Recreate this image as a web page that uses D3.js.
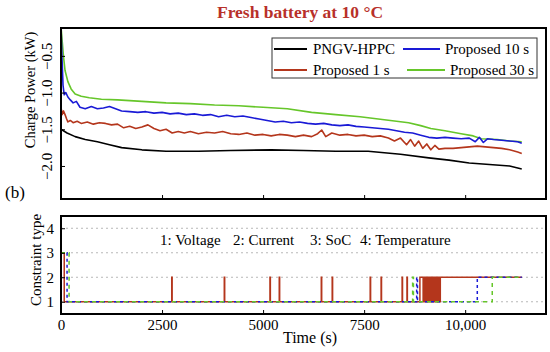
<!DOCTYPE html>
<html>
<head>
<meta charset="utf-8">
<script src="https://cdn.jsdelivr.net/npm/d3@7"></script>
<style>
  body { margin: 0; background: #fff; }
  svg { display: block; font-family: "Liberation Serif", "Times New Roman", serif; }
</style>
</head>
<body>
<div id="chart"></div>
<script>
// ---- data ----
const titleText = "Fresh battery at 10 \u00B0C";
const seriesNames = ["PNGV-HPPC", "Proposed 10 s", "Proposed 1 s", "Proposed 30 s"];
const seriesColors = ["#000000", "#1a1ad6", "#b4361c", "#66c62a"];

const xTicks = [0, 2500, 5000, 7500, 10000];
const xTickLabels = ["0", "2500", "5000", "7500", "10,000"];
const powerTicks = [-0.5, -1.0, -1.5, -2.0];
const constraintTicks = [1, 2, 3, 4];
const constraintLegend = ["1: Voltage", "2: Current", "3: SoC", "4: Temperature"];

// charge power (kW)
const pngvTime = [0, 150, 350, 600, 900, 1200, 1500, 2000, 2600, 3400, 4200, 5200, 6000, 6800, 7600, 8400, 9100, 9600, 10100, 10600, 11100, 11400];
const pngvPower = [-1.50, -1.55, -1.60, -1.64, -1.67, -1.71, -1.75, -1.78, -1.80, -1.80, -1.79, -1.78, -1.79, -1.80, -1.80, -1.84, -1.89, -1.92, -1.96, -1.98, -2.00, -2.04];

const p30Time = [0, 30, 60, 100, 170, 250, 350, 500, 700, 1000, 1400, 2000, 2600, 3200, 3800, 4400, 5000, 5600, 6200, 6800, 7400, 8000, 8600, 8900, 9150, 9500, 9900, 10200, 10400, 10800, 11100, 11400];
const p30Power = [-0.10, -0.30, -0.50, -0.70, -0.85, -0.95, -1.02, -1.05, -1.07, -1.09, -1.10, -1.12, -1.14, -1.15, -1.17, -1.18, -1.20, -1.22, -1.27, -1.30, -1.33, -1.37, -1.41, -1.45, -1.49, -1.52, -1.56, -1.59, -1.63, -1.64, -1.66, -1.67];

const p10Time = [0, 20, 50, 80, 120, 170, 230, 300, 380, 470, 600, 750, 900, 1050, 1200, 1350, 1500, 1700, 1900, 2100, 2300, 2500, 2700, 2900, 3100, 3300, 3500, 3700, 3900, 4100, 4300, 4500, 4700, 4900, 5100, 5300, 5500, 5700, 5900, 6100, 6300, 6500, 6700, 6900, 7100, 7300, 7500, 7700, 7900, 8100, 8300, 8500, 8700, 8900, 9100, 9300, 9500, 9700, 9900, 10100, 10250, 10350, 10450, 10550, 10700, 10900, 11100, 11300, 11400];
const p10Power = [-0.10, -0.45, -0.90, -1.03, -1.00, -1.06, -1.10, -1.14, -1.12, -1.20, -1.22, -1.19, -1.22, -1.21, -1.19, -1.22, -1.25, -1.26, -1.27, -1.26, -1.28, -1.27, -1.29, -1.28, -1.30, -1.29, -1.31, -1.30, -1.33, -1.31, -1.33, -1.32, -1.34, -1.36, -1.38, -1.40, -1.39, -1.41, -1.40, -1.42, -1.43, -1.42, -1.44, -1.45, -1.44, -1.46, -1.47, -1.48, -1.49, -1.50, -1.52, -1.54, -1.55, -1.58, -1.61, -1.62, -1.61, -1.62, -1.63, -1.62, -1.67, -1.61, -1.68, -1.63, -1.64, -1.65, -1.66, -1.67, -1.69];

const p1Time = [0, 30, 60, 100, 140, 170, 230, 300, 400, 500, 650, 800, 950, 1100, 1250, 1400, 1550, 1700, 1850, 2000, 2150, 2300, 2450, 2600, 2750, 2900, 3050, 3200, 3400, 3600, 3800, 4000, 4200, 4400, 4600, 4800, 5000, 5200, 5400, 5600, 5800, 6000, 6200, 6350, 6450, 6550, 6700, 6900, 7100, 7300, 7500, 7700, 7900, 8100, 8250, 8400, 8550, 8650, 8750, 8850, 8950, 9050, 9150, 9250, 9350, 9500, 9700, 9900, 10100, 10300, 10500, 10700, 10900, 11100, 11300, 11400];
const p1Power = [-1.20, -1.30, -1.25, -1.30, -1.36, -1.40, -1.38, -1.41, -1.39, -1.42, -1.40, -1.43, -1.41, -1.42, -1.44, -1.43, -1.48, -1.46, -1.49, -1.47, -1.44, -1.49, -1.52, -1.50, -1.55, -1.53, -1.55, -1.53, -1.56, -1.54, -1.55, -1.53, -1.56, -1.57, -1.55, -1.58, -1.57, -1.59, -1.57, -1.58, -1.60, -1.58, -1.60, -1.56, -1.51, -1.60, -1.55, -1.58, -1.57, -1.59, -1.58, -1.60, -1.59, -1.62, -1.66, -1.62, -1.71, -1.64, -1.73, -1.66, -1.76, -1.70, -1.78, -1.72, -1.77, -1.76, -1.76, -1.75, -1.74, -1.73, -1.74, -1.75, -1.76, -1.78, -1.81, -1.83];

// constraint type (step)
const c1Time = [0, 80, 2740, 2750, 4040, 4050, 5170, 5180, 5400, 5410, 6440, 6450, 6710, 6720, 7650, 7660, 7920, 7930, 8440, 8450, 8560, 8570, 8880, 8960, 8985, 9010, 9035, 9060, 9085, 9110, 9135, 9160, 9185, 9210, 9235, 9260, 9285, 9310, 9335, 9360, 9385, 11400];
const c1Type = [3, 1, 2, 1, 2, 1, 2, 1, 2, 1, 2, 1, 2, 1, 2, 1, 2, 1, 2, 1, 2, 1, 2, 1, 2, 1, 2, 1, 2, 1, 2, 1, 2, 1, 2, 1, 2, 1, 2, 1, 2, 2];
const c10Time = [0, 150, 8800, 8820, 10300, 11400];
const c10Type = [3, 1, 2, 1, 2, 2];
const c30Time = [0, 200, 8700, 8720, 10670, 11400];
const c30Type = [3, 1, 2, 1, 2, 2];

// ---- layout ----
const W = 550, H = 352;
const left = 61, right = 546;
const top1 = 28, bot1 = 199, top2 = 216, bot2 = 314;
const serif = '"Liberation Serif", "Times New Roman", serif';

const svg = d3.select("#chart").append("svg")
  .attr("width", W).attr("height", H);

const x = d3.scaleLinear().domain([0, 12000]).range([left, right]);
const yP = d3.scaleLinear().domain([-2.45, -0.12]).range([bot1, top1]);
const yC = d3.scaleLinear().domain([0.5, 4.5]).range([bot2, top2]);

const zip = (t, v) => t.map((d, i) => [d, v[i]]);

// title
svg.append("text")
  .attr("x", 300).attr("y", 18)
  .attr("text-anchor", "middle")
  .attr("font-size", 17.5).attr("font-weight", "bold")
  .attr("fill", "#b8302a")
  .text(titleText);

// ---------- top panel ----------
svg.append("clipPath").attr("id", "clipTop")
  .append("rect").attr("x", left).attr("y", top1).attr("width", right - left).attr("height", bot1 - top1);

const powerLine = d3.line().x(d => x(d[0])).y(d => yP(d[1]));
const topSeries = [
  { data: zip(pngvTime, pngvPower), color: seriesColors[0] },
  { data: zip(p30Time, p30Power), color: seriesColors[3] },
  { data: zip(p10Time, p10Power), color: seriesColors[1] },
  { data: zip(p1Time, p1Power), color: seriesColors[2] }
];
svg.append("g").attr("clip-path", "url(#clipTop)")
  .selectAll("path")
  .data(topSeries)
  .enter()
  .append("path")
  .attr("d", d => powerLine(d.data))
  .attr("fill", "none")
  .attr("stroke", d => d.color)
  .attr("stroke-width", 1.6)
  .attr("stroke-linejoin", "round");

// axes of top panel (ticks inside)
const yAxisTop = d3.axisLeft(yP).tickValues(powerTicks).tickSizeInner(-4).tickSizeOuter(0)
  .tickFormat(d3.format(".1f"));
const gyTop = svg.append("g").attr("transform", `translate(${left},0)`).call(yAxisTop)
  .attr("font-family", serif).attr("font-size", 15);
gyTop.select(".domain").remove();
gyTop.selectAll("text")
  .attr("text-anchor", "middle").attr("x", 0).attr("dy", 0)
  .attr("transform", "translate(-9,0) rotate(-90)");

const xAxisTop = d3.axisBottom(x).tickValues(xTicks.slice(1)).tickSizeInner(-4).tickSizeOuter(0).tickFormat("");
const gxTop = svg.append("g").attr("transform", `translate(0,${bot1})`).call(xAxisTop);
gxTop.select(".domain").remove();

svg.append("rect")
  .attr("x", left).attr("y", top1).attr("width", right - left).attr("height", bot1 - top1)
  .attr("fill", "none").attr("stroke", "#000").attr("stroke-width", 2);

svg.append("text")
  .attr("transform", "translate(35,90) rotate(-90)")
  .attr("text-anchor", "middle").attr("font-size", 14.5)
  .text("Charge Power (kW)");

// legend
const legend = svg.append("g");
legend.append("rect")
  .attr("x", 272).attr("y", 38).attr("width", 265).attr("height", 40)
  .attr("fill", "#fff").attr("stroke", "#333").attr("stroke-width", 1);
const legendItems = [
  { name: seriesNames[0], color: seriesColors[0], x1: 274, x2: 307, tx: 313, y: 49 },
  { name: seriesNames[1], color: seriesColors[1], x1: 403, x2: 440, tx: 445, y: 49 },
  { name: seriesNames[2], color: seriesColors[2], x1: 274, x2: 307, tx: 313, y: 70 },
  { name: seriesNames[3], color: seriesColors[3], x1: 407, x2: 445, tx: 450, y: 70 }
];
const li = legend.selectAll("g.item").data(legendItems).enter().append("g").attr("class", "item");
li.append("line")
  .attr("x1", d => d.x1).attr("x2", d => d.x2)
  .attr("y1", d => d.y).attr("y2", d => d.y)
  .attr("stroke", d => d.color).attr("stroke-width", 2);
li.append("text")
  .attr("x", d => d.tx).attr("y", d => d.y + 5)
  .attr("font-size", 15)
  .text(d => d.name);

svg.append("text")
  .attr("x", 5).attr("y", 198)
  .attr("font-size", 17)
  .text("(b)");

// ---------- bottom panel ----------
svg.append("g")
  .selectAll("line")
  .data(constraintTicks)
  .enter()
  .append("line")
  .attr("x1", left).attr("x2", right)
  .attr("y1", d => yC(d)).attr("y2", d => yC(d))
  .attr("stroke", "#b8b8b8").attr("stroke-width", 1)
  .attr("stroke-dasharray", "2,3");

const stepLine = d3.line().curve(d3.curveStepAfter).x(d => x(d[0])).y(d => yC(d[1]));
const botSeries = [
  { data: zip(c1Time, c1Type), color: seriesColors[2], dash: null, w: 1.5 },
  { data: zip(c10Time, c10Type), color: seriesColors[1], dash: "3,3", w: 1.5 },
  { data: zip(c30Time, c30Type), color: seriesColors[3], dash: "4,4", w: 1.5 }
];
svg.append("g")
  .selectAll("path")
  .data(botSeries)
  .enter()
  .append("path")
  .attr("d", d => stepLine(d.data))
  .attr("fill", "none")
  .attr("stroke", d => d.color)
  .attr("stroke-width", d => d.w)
  .attr("stroke-dasharray", d => d.dash);

const yAxisBot = d3.axisLeft(yC).tickValues(constraintTicks).tickSizeInner(-4).tickSizeOuter(0).tickPadding(7)
  .tickFormat(d3.format("d"));
const gyBot = svg.append("g").attr("transform", `translate(${left},0)`).call(yAxisBot)
  .attr("font-family", serif).attr("font-size", 15);
gyBot.select(".domain").remove();

const xAxisBot = d3.axisBottom(x).tickValues(xTicks).tickSizeInner(-4).tickSizeOuter(0).tickPadding(5.5)
  .tickFormat((d, i) => xTickLabels[i]);
const gxBot = svg.append("g").attr("transform", `translate(0,${bot2})`).call(xAxisBot)
  .attr("font-family", serif).attr("font-size", 15);
gxBot.select(".domain").remove();

svg.append("rect")
  .attr("x", left).attr("y", top2).attr("width", right - left).attr("height", bot2 - top2)
  .attr("fill", "none").attr("stroke", "#000").attr("stroke-width", 2);

svg.append("text")
  .attr("transform", "translate(41,260) rotate(-90)")
  .attr("text-anchor", "middle").attr("font-size", 15)
  .text("Constraint type");

svg.append("text")
  .attr("x", 310).attr("y", 343)
  .attr("text-anchor", "middle").attr("font-size", 16)
  .text("Time (s)");

const noteX = [160, 233, 310, 360];
svg.append("text")
  .attr("y", 245).attr("font-size", 15)
  .selectAll("tspan")
  .data(constraintLegend)
  .enter()
  .append("tspan")
  .attr("x", (d, i) => noteX[i])
  .text(d => d);
</script>
</body>
</html>
